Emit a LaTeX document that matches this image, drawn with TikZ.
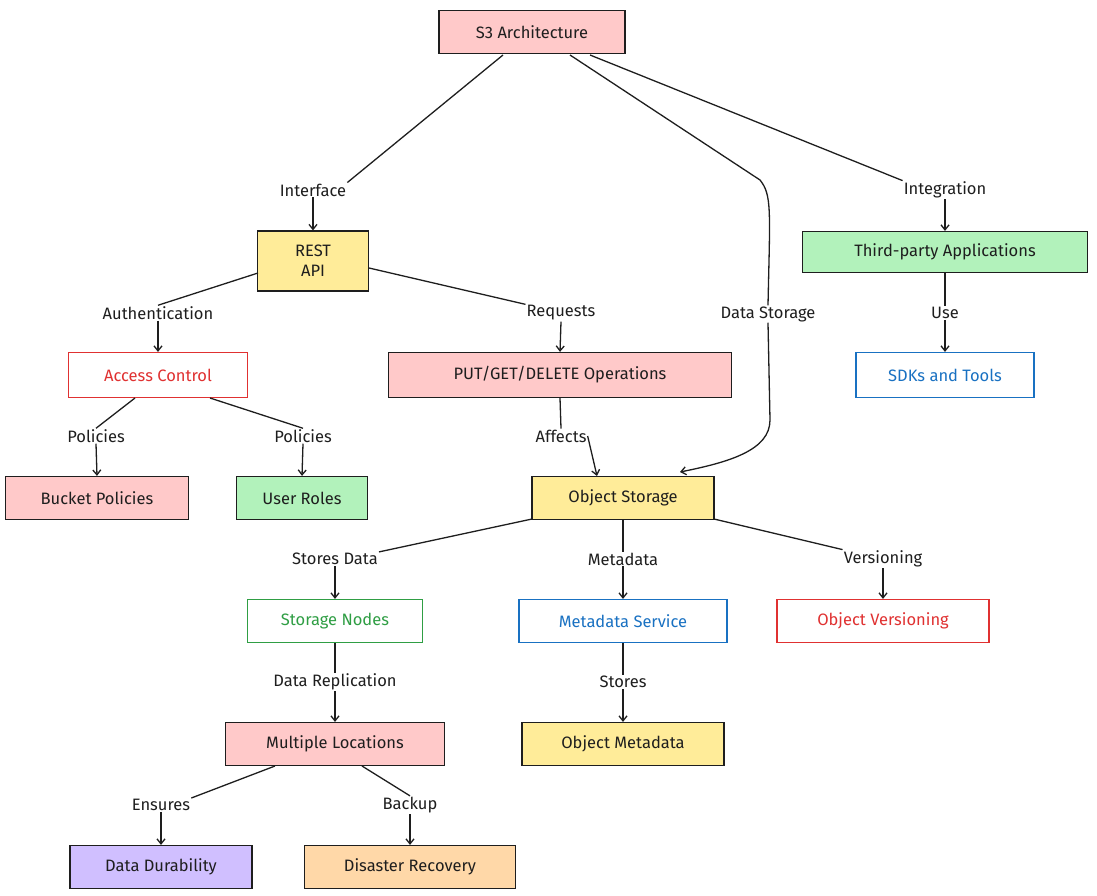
\documentclass[tikz,border=0pt]{standalone}
\usepackage{fontspec}
\setmainfont{Fira Sans}
\usetikzlibrary{arrows.meta}
\definecolor{pk}{HTML}{FFC9C9}
\definecolor{yl}{HTML}{FFEC99}
\definecolor{gr}{HTML}{B2F2BB}
\definecolor{pu}{HTML}{D0BFFF}
\definecolor{or}{HTML}{FFD8A8}
\definecolor{rd}{HTML}{E03131}
\definecolor{bl}{HTML}{1971C2}
\definecolor{gn}{HTML}{2F9E44}
\definecolor{ink}{HTML}{1E1E1E}
\begin{document}
\begin{tikzpicture}[x=1pt,y=-1pt,
  font=\fontsize{16.5}{20}\selectfont,
  box/.style={draw=ink,line width=1.2pt,minimum height=43pt,inner sep=0pt,align=center,text=ink},
  lbl/.style={fill=white,inner sep=1pt,text=ink},
  ln/.style={draw=ink,line width=1.3pt},
  ar/.style={ln,-{Straight Barb[length=5pt,width=8pt]}}]
\useasboundingbox (0,0) rectangle (1097,896);
\node[box,fill=pk,minimum width=186pt] (s3) at (532,32) {S3 Architecture};
\node[box,fill=yl,minimum width=111pt,minimum height=60pt] (rest) at (313,261) {REST\\API};
\node[box,fill=gr,minimum width=285pt,minimum height=41pt] (tp) at (945,252) {Third-party Applications};
\node[box,fill=white,draw=rd,text=rd,minimum width=179pt,minimum height=45pt] (ac) at (158,375) {Access Control};
\node[box,fill=pk,minimum width=343pt,minimum height=45pt] (put) at (560,375) {PUT/GET/DELETE Operations};
\node[box,fill=white,draw=bl,text=bl,minimum width=178pt,minimum height=45pt] (sdk) at (945,375) {SDKs and Tools};
\node[box,fill=pk,minimum width=183pt] (bp) at (97,498) {Bucket Policies};
\node[box,fill=gr,minimum width=131pt] (ur) at (302,498) {User Roles};
\node[box,fill=yl,minimum width=182pt] (os) at (623,498) {Object Storage};
\node[box,fill=white,draw=gn,text=gn,minimum width=175pt] (sn) at (335,621) {Storage Nodes};
\node[box,fill=white,draw=bl,text=bl,minimum width=208pt] (ms) at (623,621) {Metadata Service};
\node[box,fill=white,draw=rd,text=rd,minimum width=212pt] (ov) at (883,621) {Object Versioning};
\node[box,fill=pk,minimum width=219pt] (ml) at (335,744) {Multiple Locations};
\node[box,fill=yl,minimum width=202pt] (om) at (623,744) {Object Metadata};
\node[box,fill=pu,minimum width=182pt] (dd) at (161,867) {Data Durability};
\node[box,fill=or,minimum width=211pt] (dr) at (410,867) {Disaster Recovery};
% labels
\node[lbl] (l1) at (313,190) {Interface};
\node[lbl] (l2) at (945,190) {Integration};
\node[lbl] (l3) at (158,313) {Authentication};
\node[lbl] (l4) at (561,313) {Requests};
\node[lbl] (l5) at (768,314) {Data Storage};
\node[lbl] (l6) at (945,313) {Use};
\node[lbl] (l7) at (96,436) {Policies};
\node[lbl] (l8) at (303,436) {Policies};
\node[lbl] (l9) at (561,436) {Affects};
\node[lbl] (l10) at (335,559) {Stores Data};
\node[lbl] (l11) at (623,559) {Metadata};
\node[lbl] (l12) at (883,559) {Versioning};
\node[lbl] (l13) at (335,682) {Data Replication};
\node[lbl] (l14) at (623,682) {Stores};
\node[lbl] (l15) at (161,805) {Ensures};
\node[lbl] (l16) at (410,805) {Backup};
% edges
\draw[ln] (503,55) -- (l1.north east); \draw[ar] (l1.south) -- (rest.north);
\draw[ln] (590,55) -- (l2.north west); \draw[ar] (l2.south) -- (tp.north);
\draw[ln] (258,273) -- (l3.north); \draw[ar] (l3.south) -- (ac.north);
\draw[ln] (369,268) -- (l4.north west); \draw[ar] (l4.south) -- (put.north);
\draw[ln] (570,55) -- (760,180) .. controls (772,195) and (770,210) .. (l5.north);
\draw[ar] (l5.south) -- (770,420) .. controls (770,450) and (730,462) .. (680,472);
\draw[ln] (tp.south) -- (l6.north); \draw[ar] (l6.south) -- (sdk.north);
\draw[ln] (135,398) -- (l7.north); \draw[ar] (l7.south) -- (bp.north);
\draw[ln] (210,398) -- (l8.north); \draw[ar] (l8.south) -- (ur.north);
\draw[ln] (put.south) -- (l9.north); \draw[ar] (l9.east) -- (597,476);
\draw[ln] (532,519) -- (l10.north east); \draw[ar] (l10.south) -- (sn.north);
\draw[ln] (os.south) -- (l11.north); \draw[ar] (l11.south) -- (ms.north);
\draw[ln] (714,519) -- (l12.north west); \draw[ar] (l12.south) -- (ov.north);
\draw[ln] (sn.south) -- (l13.north); \draw[ar] (l13.south) -- (ml.north);
\draw[ln] (ms.south) -- (l14.north); \draw[ar] (l14.south) -- (om.north);
\draw[ln] (275,766) -- (l15.north east); \draw[ar] (l15.south) -- (dd.north);
\draw[ln] (362,766) -- (l16.north); \draw[ar] (l16.south) -- (dr.north);
\end{tikzpicture}
\end{document}
